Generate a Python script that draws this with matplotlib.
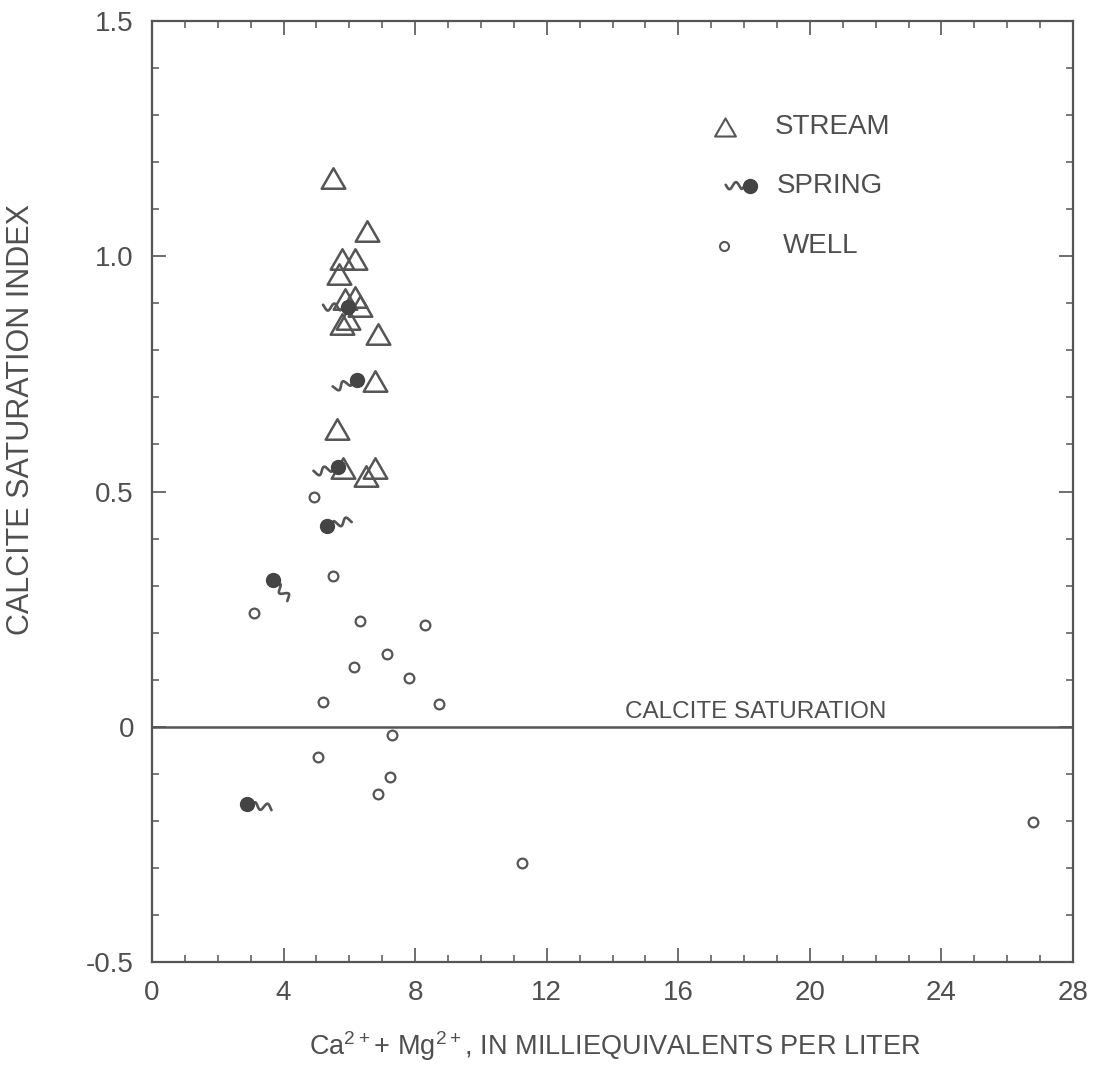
import numpy as np
import matplotlib
matplotlib.use("Agg")
import matplotlib.pyplot as plt
import matplotlib.transforms as mtransforms
from matplotlib.path import Path

plt.rcParams["font.family"] = ["Liberation Sans", "DejaVu Sans"]
plt.rcParams["mathtext.fontset"] = "custom"
plt.rcParams["mathtext.rm"] = "Liberation Sans"
plt.rcParams["axes.unicode_minus"] = False

# data
stream_x = [5.50, 6.54, 5.78, 6.17, 5.69, 5.87, 6.17, 6.32, 5.78, 5.96, 6.87,
            6.78, 5.62, 5.81, 6.78, 6.51]
stream_y = [1.167, 1.053, 0.994, 0.994, 0.962, 0.909, 0.913, 0.894, 0.856, 0.867,
            0.835, 0.735, 0.633, 0.549, 0.549, 0.534]
spring_x = [5.96, 6.23, 5.66, 5.32, 3.68, 2.89]
spring_y = [0.892, 0.737, 0.553, 0.426, 0.311, -0.165]
spring_tail = [180, 200, 195, 15, -50, -8]   # direction of the wavy tail, degrees
well_x = [4.93, 5.50, 3.10, 6.32, 8.30, 7.14, 6.14, 7.81, 5.20, 8.73, 7.30,
          5.05, 7.24, 6.87, 26.79, 11.25]
well_y = [0.489, 0.321, 0.242, 0.225, 0.216, 0.155, 0.128, 0.103, 0.053, 0.048,
          -0.017, -0.065, -0.106, -0.143, -0.203, -0.290]

xticks = [0, 4, 8, 12, 16, 20, 24, 28]
yticks = [-0.5, 0, 0.5, 1.0, 1.5]
ytick_labels = ["-0.5", "0", "0.5", "1.0", "1.5"]

ink = "#555555"
txt = "#4f4f4f"

tri = Path([(-1, -0.866), (1, -0.866), (0, 0.866), (-1, -0.866)],
           [Path.MOVETO, Path.LINETO, Path.LINETO, Path.CLOSEPOLY])

fig = plt.figure(figsize=(10.95, 10.65), dpi=100)
ax = fig.add_axes([152 / 1095, 103 / 1065, 921 / 1095, 941 / 1065])


def tail(x, y, ang, trans_base, length=0.25):
    t = np.linspace(0.04, length, 60)
    w = 0.035 * np.sin(2 * np.pi * (t - 0.04) / 0.13) * np.clip((t - 0.04) / 0.04, 0, 1)
    a = np.deg2rad(ang)
    dx = t * np.cos(a) - w * np.sin(a)
    dy = t * np.sin(a) + w * np.cos(a)
    dx = np.r_[0, dx]
    dy = np.r_[0, dy]
    tr = fig.dpi_scale_trans + mtransforms.ScaledTranslation(x, y, trans_base)
    ax.plot(dx, dy, transform=tr, color=ink, lw=1.9, zorder=3, clip_on=False,
            solid_capstyle="round")


ax.axhline(0, color=ink, lw=1.8, zorder=1)
ax.text(14.38, 0.008, "CALCITE SATURATION", fontsize=17.5, color=txt,
        ha="left", va="bottom")

ax.plot(stream_x, stream_y, ls="none", marker=tri, ms=17, mfc="none",
        mec=ink, mew=1.8, zorder=2)
ax.plot(well_x, well_y, ls="none", marker="o", ms=7, mfc="none",
        mec=ink, mew=1.6, zorder=2)
for x, y, a in zip(spring_x, spring_y, spring_tail):
    tail(x, y, a, ax.transData)
ax.plot(spring_x, spring_y, ls="none", marker="o", ms=10, mfc="#444444",
        mec="#444444", zorder=4)

# legend, drawn by hand like the original
ax.plot([0.622], [0.887], transform=ax.transAxes, marker=tri, ms=15, mfc="none",
        mec=ink, mew=1.5)
ax.text(0.676, 0.887, "STREAM", transform=ax.transAxes, fontsize=20, color=txt,
        va="center")
tail(0.649, 0.825, 180, ax.transAxes, length=0.24)
ax.plot([0.649], [0.825], transform=ax.transAxes, marker="o", ms=10,
        mfc="#444444", mec="#444444", zorder=4)
ax.text(0.678, 0.825, "SPRING", transform=ax.transAxes, fontsize=20, color=txt,
        va="center")
ax.plot([0.621], [0.761], transform=ax.transAxes, marker="o", ms=6.5,
        mfc="none", mec=ink, mew=1.5)
ax.text(0.685, 0.761, "WELL", transform=ax.transAxes, fontsize=20, color=txt,
        va="center")

ax.set_xlim(0, 28)
ax.set_ylim(-0.5, 1.5)
ax.set_xticks(xticks)
ax.set_xticks(np.arange(0, 29, 1), minor=True)
ax.set_yticks(yticks)
ax.set_yticklabels(ytick_labels)
ax.set_yticks(np.arange(-0.5, 1.51, 0.1), minor=True)
ax.tick_params(which="both", direction="in", top=True, right=True,
               color=ink, labelcolor=txt)
ax.tick_params(which="major", length=10, width=1.2, labelsize=20, pad=13)
ax.tick_params(which="minor", length=5, width=1.1)
for s in ax.spines.values():
    s.set_color(ink)
    s.set_linewidth(1.6)

ax.set_xlabel(r"Ca$^{\mathrm{2+}}$+ Mg$^{\mathrm{2+}}$, IN MILLIEQUIVALENTS PER LITER",
              fontsize=19.5, color=txt, va="baseline")
ax.xaxis.set_label_coords(0.503, -0.099)
ax.set_ylabel("CALCITE SATURATION INDEX", fontsize=22, color=txt, va="center")
ax.yaxis.set_label_coords(-0.142, 0.576)

fig.savefig("out.png", dpi=100)
